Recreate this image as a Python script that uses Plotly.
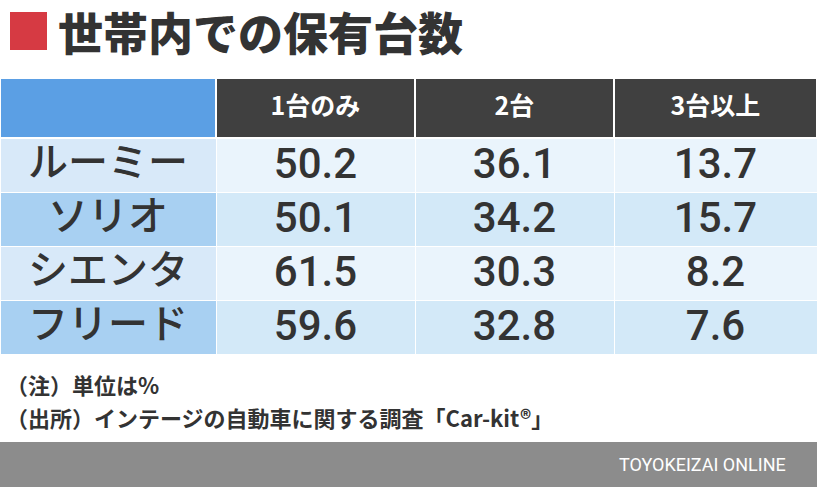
import plotly.graph_objects as go

title = "世帯内での保有台数"
columns = ["", "1台のみ", "2台", "3台以上"]
models = ["ルーミー", "ソリオ", "シエンタ", "フリード"]
one_car = [50.2, 50.1, 61.5, 59.6]
two_cars = [36.1, 34.2, 30.3, 32.8]
three_plus = [13.7, 15.7, 8.2, 7.6]
note1 = "（注）単位は%"
note2 = "（出所）インテージの自動車に関する調査「Car-kit®」"
brand = "TOYOKEIZAI ONLINE"

W, H = 817, 487
JP = "Noto Sans CJK JP"
NUM = "Roboto"

name_fill = ["#d8e9f9", "#a8d0f2", "#d8e9f9", "#a8d0f2"]
data_fill = ["#eaf4fc", "#d3e9f8", "#eaf4fc", "#d3e9f8"]

fig = go.Figure()
fig.add_trace(go.Table(
    domain=dict(x=[0, 1], y=[0, 1 - 78 / H]),
    columnwidth=[216, 199, 199, 203],
    header=dict(
        values=[f"<b>{c}</b>" for c in columns],
        fill=dict(color=["#5b9fe4", "#404040", "#404040", "#404040"]),
        line=dict(color="white", width=2),
        font=dict(family=JP, size=25, color="white"),
        align="center",
        height=60,
    ),
    cells=dict(
        values=[models,
                [f"{v:.1f}" for v in one_car],
                [f"{v:.1f}" for v in two_cars],
                [f"{v:.1f}" for v in three_plus]],
        fill=dict(color=[name_fill, data_fill, data_fill, data_fill]),
        line=dict(color="white", width=1),
        font=dict(family=[JP, NUM, NUM, NUM], size=[40, 42, 42, 42],
                  color="#333333", weight=[500, 500, 500, 500]),
        align="center",
        height=54,
    ),
))

fig.add_shape(type="rect", xref="paper", yref="paper",
              x0=10 / W, x1=47 / W, y0=1 - 50 / H, y1=1 - 12 / H,
              fillcolor="#d63a43", line_width=0)
fig.add_annotation(text=title, xref="paper", yref="paper",
                   x=56 / W, y=1 - 31 / H, xanchor="left", yanchor="middle",
                   showarrow=False, font=dict(family=JP, size=45, color="#333333", weight=900))
fig.add_annotation(text=note1, xref="paper", yref="paper",
                   x=4 / W, y=1 - 384 / H, xanchor="left", yanchor="middle",
                   showarrow=False, font=dict(family=JP, size=22, color="#333333", weight=700))
fig.add_annotation(text=note2, xref="paper", yref="paper",
                   x=4 / W, y=1 - 417 / H, xanchor="left", yanchor="middle",
                   showarrow=False, font=dict(family=JP, size=22, color="#333333", weight=700))
fig.add_shape(type="rect", xref="paper", yref="paper",
              x0=0, x1=1, y0=0, y1=1 - 442 / H,
              fillcolor="#8c8c8c", line_width=0)
fig.add_annotation(text=brand, xref="paper", yref="paper",
                   x=788 / W, y=1 - 464 / H, xanchor="right", yanchor="middle",
                   showarrow=False, font=dict(family=NUM, size=18, color="white"))

fig.update_layout(width=W, height=H, margin=dict(l=0, r=0, t=0, b=0),
                  paper_bgcolor="white", plot_bgcolor="white")
fig.write_html("out.html", post_script="document.body.style.margin='0';",
               config={"displayModeBar": False})
